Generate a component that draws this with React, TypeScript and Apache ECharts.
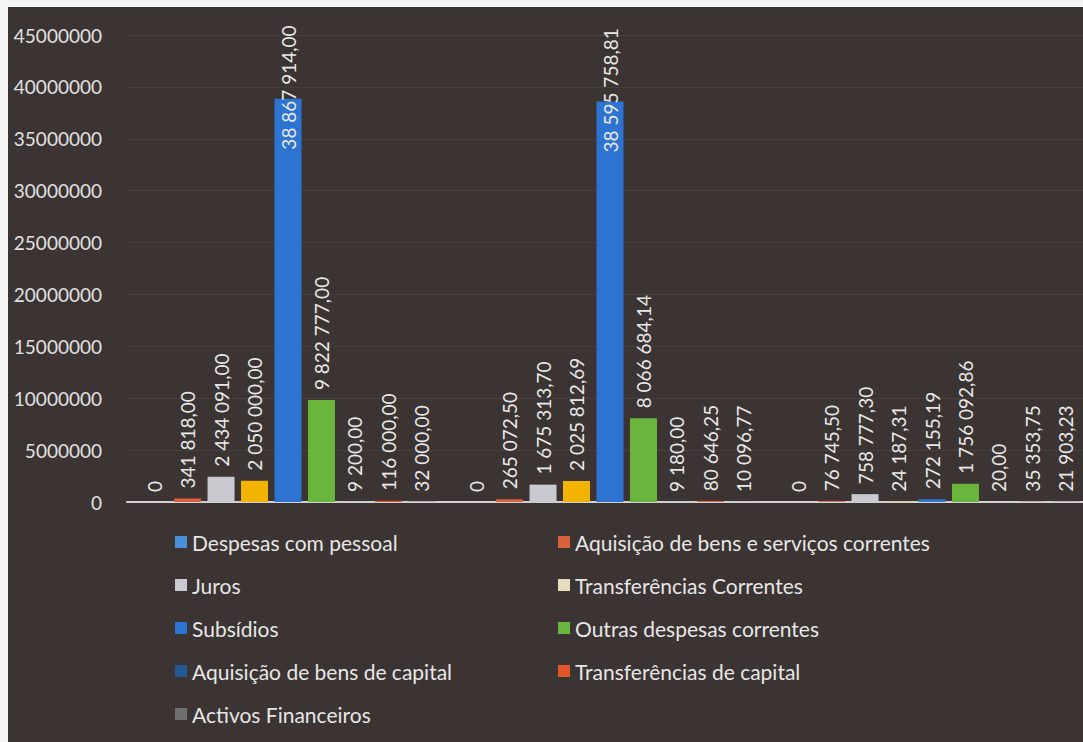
import React, { useEffect, useRef } from "react";
import * as echarts from "echarts";

const categories = ["Grupo 1", "Grupo 2", "Grupo 3"];

const seriesNames = [
  "Despesas com pessoal",
  "Aquisição de bens e serviços correntes",
  "Juros",
  "Transferências Correntes",
  "Subsídios",
  "Outras despesas correntes",
  "Aquisição de bens de capital",
  "Transferências de capital",
  "Activos Financeiros",
];

const despesasPessoal = [0, 0, 0];
const aquisicaoBensServicos = [341818.0, 265072.5, 76745.5];
const juros = [2434091.0, 1675313.7, 758777.3];
const transferenciasCorrentes = [2050000.0, 2025812.69, 24187.31];
const subsidios = [38867914.0, 38595758.81, 272155.19];
const outrasDespesas = [9822777.0, 8066684.14, 1756092.86];
const aquisicaoBensCapital = [9200.0, 9180.0, 20.0];
const transferenciasCapital = [116000.0, 80646.25, 35353.75];
const activosFinanceiros = [32000.0, 10096.77, 21903.23];

const seriesValues = [
  despesasPessoal,
  aquisicaoBensServicos,
  juros,
  transferenciasCorrentes,
  subsidios,
  outrasDespesas,
  aquisicaoBensCapital,
  transferenciasCapital,
  activosFinanceiros,
];

const seriesColors = [
  "#4a90d9",
  "#d8603c",
  "#c9c9cf",
  "#f2b400",
  "#2d74d2",
  "#6ab53c",
  "#235a96",
  "#e2572a",
  "#6f6f6f",
];

const yTicks = { min: 0, max: 45000000, interval: 5000000 };

const leftLegend = [
  "Despesas com pessoal",
  "Juros",
  "Subsídios",
  "Aquisição de bens de capital",
  "Activos Financeiros",
];
const rightLegend = [
  "Aquisição de bens e serviços correntes",
  "Transferências Correntes",
  "Outras despesas correntes",
  "Transferências de capital",
];

function fmt(v: number): string {
  if (v === 0) return "0";
  const [i, d] = v.toFixed(2).split(".");
  return i.replace(/\B(?=(\d{3})+(?!\d))/g, " ") + "," + d;
}

const FONT = "Lato";

export default function App() {
  const ref = useRef<HTMLDivElement>(null);
  useEffect(() => {
    document.body.style.margin = "0";
    if (!ref.current) return;
    const chart = echarts.init(ref.current, undefined, { renderer: "svg" });
    const series = seriesNames.map((name, si) => ({
      name,
      type: "bar",
      barWidth: 27,
      barGap: "24%",
      itemStyle: { color: seriesColors[si] },
      data: seriesValues[si].map((v) => {
        if (si === 4 && v > 30000000) {
          return {
            value: v,
            label: { position: ["50%", 51] },
          };
        }
        return v;
      }),
      label: {
        show: true,
        position: "top",
        distance: 10,
        rotate: 90,
        align: "left",
        verticalAlign: "middle",
        color: "#e8e8e8",
        fontFamily: FONT,
        fontSize: 19,
        formatter: (p: any) => fmt(p.value as number),
      },
    }));
    const legendText = { color: "#e6e6e6", fontFamily: FONT, fontSize: 21, lineHeight: 22 };
    chart.setOption({
      animation: false,
      backgroundColor: "#3c3432",
      grid: { left: 119, right: 5, top: 28, bottom: 240, containLabel: false },
      xAxis: {
        type: "category",
        data: categories,
        axisLabel: { show: false },
        axisTick: { show: false },
        axisLine: { show: true, lineStyle: { color: "#d2d2d2", width: 2 } },
      },
      yAxis: {
        type: "value",
        min: yTicks.min,
        max: yTicks.max,
        interval: yTicks.interval,
        axisLine: { show: false },
        axisTick: { show: false },
        axisLabel: {
          color: "#e0e0e0",
          fontFamily: FONT,
          fontSize: 19,
          margin: 25,
          formatter: (v: number) => String(v),
        },
        splitLine: { show: true, lineStyle: { color: "rgba(255,255,255,0.06)", width: 1 } },
      },
      legend: [
        {
          orient: "vertical",
          left: 162,
          top: 519,
          itemWidth: 12,
          itemHeight: 12,
          itemGap: 21,
          icon: "rect",
          selectedMode: false,
          textStyle: legendText,
          data: leftLegend,
        },
        {
          orient: "vertical",
          left: 545,
          top: 519,
          itemWidth: 12,
          itemHeight: 12,
          itemGap: 21,
          icon: "rect",
          selectedMode: false,
          textStyle: legendText,
          data: rightLegend.map((n) =>
            n === "Transferências Correntes" ? { name: n, itemStyle: { color: "#e6dcc0" } } : n
          ),
        },
      ],
      series,
    });
    return () => chart.dispose();
  }, []);
  return (
    <div style={{ position: "absolute", left: 0, top: 0, width: 1083, height: 742, background: "#f4f4f4", overflow: "hidden" }}>
      <div ref={ref} style={{ position: "absolute", left: 8, top: 7, width: 1090, height: 735 }} />
    </div>
  );
}
